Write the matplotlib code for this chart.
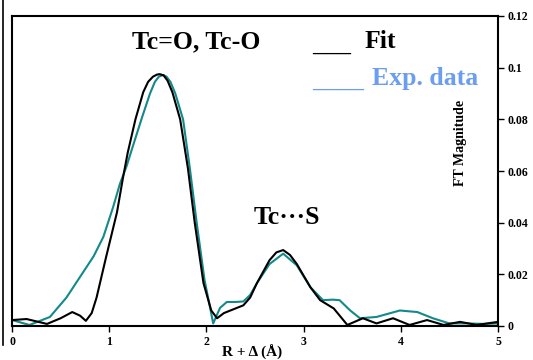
import matplotlib
matplotlib.use("Agg")
import matplotlib.pyplot as plt
from matplotlib.lines import Line2D

plt.rcParams['font.family'] = ['Liberation Serif', 'DejaVu Serif']

# Fit curve (black)
fit_r = [0.0, 0.15, 0.36, 0.5, 0.62, 0.7, 0.76, 0.82, 0.87, 0.97, 1.08, 1.14, 1.19,
         1.27, 1.35, 1.40, 1.45, 1.49, 1.52, 1.56, 1.60, 1.65, 1.73, 1.81, 1.88,
         1.97, 2.05, 2.11, 2.18, 2.28, 2.38, 2.45, 2.52, 2.65, 2.72, 2.79, 2.86,
         2.93, 3.07, 3.17, 3.31, 3.45, 3.61, 3.75, 3.92, 4.09, 4.27, 4.44, 4.61,
         4.78, 5.0]
fit_y = [0.0023, 0.0027, 0.0008, 0.003, 0.0054, 0.004, 0.002, 0.005, 0.011, 0.027,
         0.044, 0.057, 0.067, 0.080, 0.0905, 0.0945, 0.0965, 0.0973, 0.0975, 0.0970,
         0.0950, 0.0905, 0.080, 0.061, 0.040, 0.0166, 0.006, 0.003, 0.005, 0.0065,
         0.008, 0.011, 0.0166, 0.0255, 0.0285, 0.0294, 0.0275, 0.024, 0.015, 0.010,
         0.0068, 0.0004, 0.003, 0.001, 0.003, 0.0004, 0.0023, 0.0004, 0.0016,
         0.0004, 0.0016]

# Experimental data (teal)
exp_r = [0.0, 0.18, 0.39, 0.56, 0.70, 0.84, 0.94, 1.04, 1.11, 1.18, 1.23, 1.34,
         1.42, 1.47, 1.51, 1.555, 1.59, 1.63, 1.68, 1.76, 1.83, 1.90, 1.98, 2.07,
         2.14, 2.21, 2.30, 2.38, 2.45, 2.52, 2.65, 2.79, 2.93, 3.07, 3.2, 3.3,
         3.37, 3.48, 3.58, 3.75, 3.99, 4.17, 4.33, 4.5, 4.68, 4.85, 5.0]
exp_y = [0.0023, 0.0004, 0.0035, 0.011, 0.019, 0.027, 0.0345, 0.046, 0.055, 0.062,
         0.068, 0.081, 0.090, 0.0945, 0.0965, 0.0972, 0.0965, 0.0945, 0.090, 0.080,
         0.061, 0.040, 0.018, 0.001, 0.007, 0.0093, 0.0093, 0.0095, 0.012, 0.0166,
         0.024, 0.028, 0.0235, 0.015, 0.010, 0.0102, 0.010, 0.006, 0.003, 0.0035,
         0.006, 0.0054, 0.003, 0.001, 0.001, 0.0008, 0.001]

xticks = [0, 1, 2, 3, 4, 5]
yticks = [0, 0.02, 0.04, 0.06, 0.08, 0.1, 0.12]
ytick_labels = ['0', '0.02', '0.04', '0.06', '0.08', '0.1', '0.12']

teal = '#14898a'
blue = '#6b9df0'

fig = plt.figure(figsize=(5.33, 3.6), dpi=100)
ax = fig.add_axes([12 / 533, 1 - 326 / 360, (498 - 12) / 533, (326 - 16) / 360])

ax.plot(exp_r, exp_y, color=teal, lw=1.5)
ax.plot(fit_r, fit_y, color='black', lw=1.5)

ax.set_xlim(0, 5)
ax.set_ylim(0, 0.12)
for s in ax.spines.values():
    s.set_linewidth(1.5)

ax.yaxis.tick_right()
ax.set_xticks(xticks)
ax.set_yticks(yticks)
ax.set_yticklabels(ytick_labels)
ax.tick_params(axis='both', direction='out', length=4, width=1, labelsize=8.5, pad=3)
for lab in ax.get_xticklabels() + ax.get_yticklabels():
    lab.set_fontweight('bold')

ax.text(0.922, 0.59, 'FT Magnitude', transform=ax.transAxes, rotation=90,
        ha='center', va='center', fontsize=10, fontweight='bold')

ax.text(1.90, 0.1100, 'Tc=O, Tc-O', ha='center', va='center', fontsize=18.5, fontweight='bold')
ax.text(2.83, 0.0420, 'Tc\u00b7\u00b7\u00b7S', ha='center', va='center', fontsize=18.5, fontweight='bold')

ax.text(3.086, 0.1090, '___', ha='left', va='center', fontsize=18.5, fontweight='bold')
ax.text(3.63, 0.1100, 'Fit', ha='left', va='center', fontsize=18.5, fontweight='bold')
ax.text(3.086, 0.0950, '____', ha='left', va='center', fontsize=18.5, fontweight='bold', color=blue)
ax.text(3.70, 0.0960, 'Exp. data', ha='left', va='center', fontsize=18.5, fontweight='bold', color=blue)

fig.text(252 / 533, 1 - 352 / 360, 'R + \u0394 (\u00c5)', ha='center', va='center',
         fontsize=11, fontweight='bold')

# border line at the left edge of the image
fig.add_artist(Line2D([2.5 / 533, 2.5 / 533], [1 - 345 / 360, 1.0],
                      transform=fig.transFigure, color='black', lw=1.2))

fig.savefig('out.png', dpi=100)
